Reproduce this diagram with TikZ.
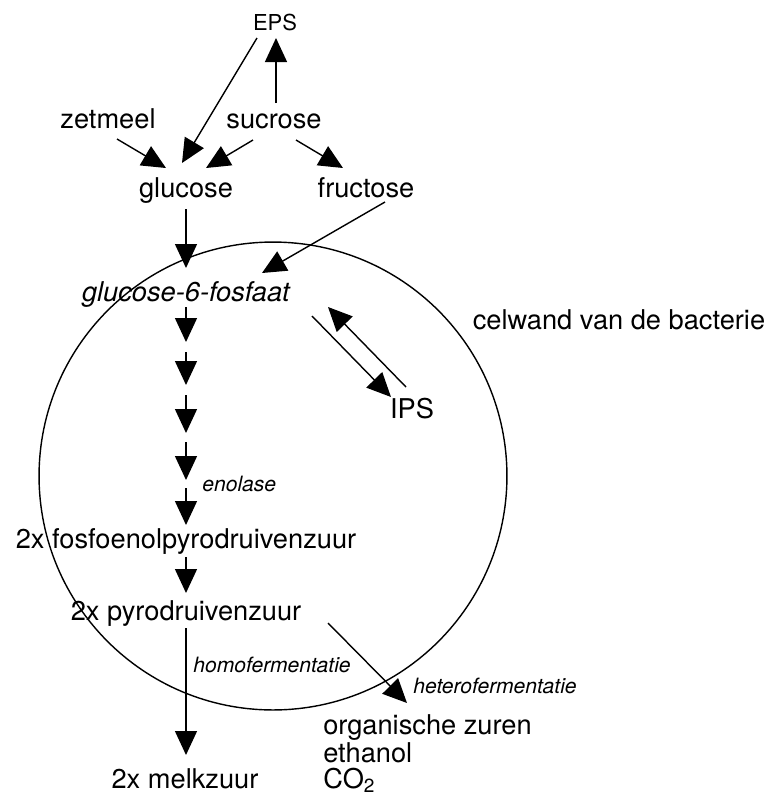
\documentclass[tikz,border=0pt]{standalone}
\usepackage{fontspec}
\setmainfont{TeX Gyre Heros}
\usetikzlibrary{arrows.meta,calc}

\tikzset{
  arr/.style={-{Triangle[length=0.48cm,width=0.44cm]}, line width=0.8pt},
  stof/.style={inner sep=0pt, anchor=base, font=\fontsize{15.5}{18}\selectfont},
  klein/.style={inner sep=0pt, anchor=base, font=\fontsize{12.5}{14}\selectfont},
  enzym/.style={inner sep=0pt, anchor=base west, font=\fontsize{12}{14}\selectfont\itshape},
}

\begin{document}
\begin{tikzpicture}[x=0.02cm, y=-0.02cm]
  \useasboundingbox (0,0) rectangle (768,796);
  \draw[line width=0.8pt] (273,476) circle[radius=4.68cm];

  \node[klein] (eps) at (275,30) {EPS};
  \node[stof] (zetmeel) at (108,128) {zetmeel};
  \node[stof] (sucrose) at (274,128) {sucrose};
  \node[stof] (glucose) at (186,197) {glucose};
  \node[stof] (fructose) at (366,197) {fructose};
  \node[stof, font=\fontsize{15.5}{18}\selectfont\itshape] (g6p) at (186,301) {glucose-6-fosfaat};
  \node[stof] (celwand) at (619,329) {celwand van de bacterie};
  \node[stof] (ips) at (412,418) {IPS};
  \node[stof] (pep) at (186,548) {2x fosfoenolpyrodruivenzuur};
  \node[stof] (pyr) at (186,620) {2x pyrodruivenzuur};
  \node[stof] (melkzuur) at (185,788) {2x melkzuur};
  \node[stof, anchor=base west] (zuren) at (323,734) {organische zuren};
  \node[stof, anchor=base west] (ethanol) at (323,762) {ethanol};
  \node[stof, anchor=base west] (co2) at (323,788) {CO\textsubscript{2}};

  \node[enzym] (enolase) at (202,491) {enolase};
  \node[enzym] (homo) at (193,672) {homofermentatie};
  \node[enzym] (hetero) at (413,693) {heterofermentatie};

  \draw[arr] ($(sucrose.base)+(2,-25)$) -- ($(eps.base)+(1,8)$);
  \draw[arr] ($(eps.base)+(-18,8)$) -- ($(glucose.base)+(-4,-34)$);
  \draw[arr] ($(zetmeel.base)+(9,11)$) -- ($(glucose.base)+(-20,-29)$);
  \draw[arr] ($(sucrose.base)+(-21,12)$) -- ($(glucose.base)+(20,-29)$);
  \draw[arr] ($(sucrose.base)+(22,12)$) -- ($(fructose.base)+(-23,-29)$);
  \draw[arr] ($(glucose.base)+(0,12)$) -- ($(g6p.base)+(0,-33)$);
  \draw[arr] ($(fructose.base)+(19,5)$) -- ($(g6p.base)+(76,-28)$);
  \draw[arr] ($(g6p.base)+(126,15)$) -- ($(ips.base)+(-21,-21)$);
  \draw[arr] ($(ips.base)+(-6,-31)$) -- ($(g6p.base)+(142,6)$);

  \foreach \a/\b in {6/41, 51/84, 94/132, 141/179}
    \draw[arr] ($(g6p.base)+(0,\a)$) -- ($(g6p.base)+(0,\b)$);
  \draw[arr] ($(g6p.base)+(0,187)$) -- ($(pep.base)+(0,-23)$);
  \draw[arr] ($(pep.base)+(0,9)$) -- ($(pyr.base)+(0,-27)$);
  \draw[arr] ($(pyr.base)+(0,8)$) -- ($(melkzuur.base)+(1,-33)$);
  \draw[arr] ($(pyr.base)+(142,3)$) -- ($(zuren.base west)+(84,-31)$);
\end{tikzpicture}
\end{document}
